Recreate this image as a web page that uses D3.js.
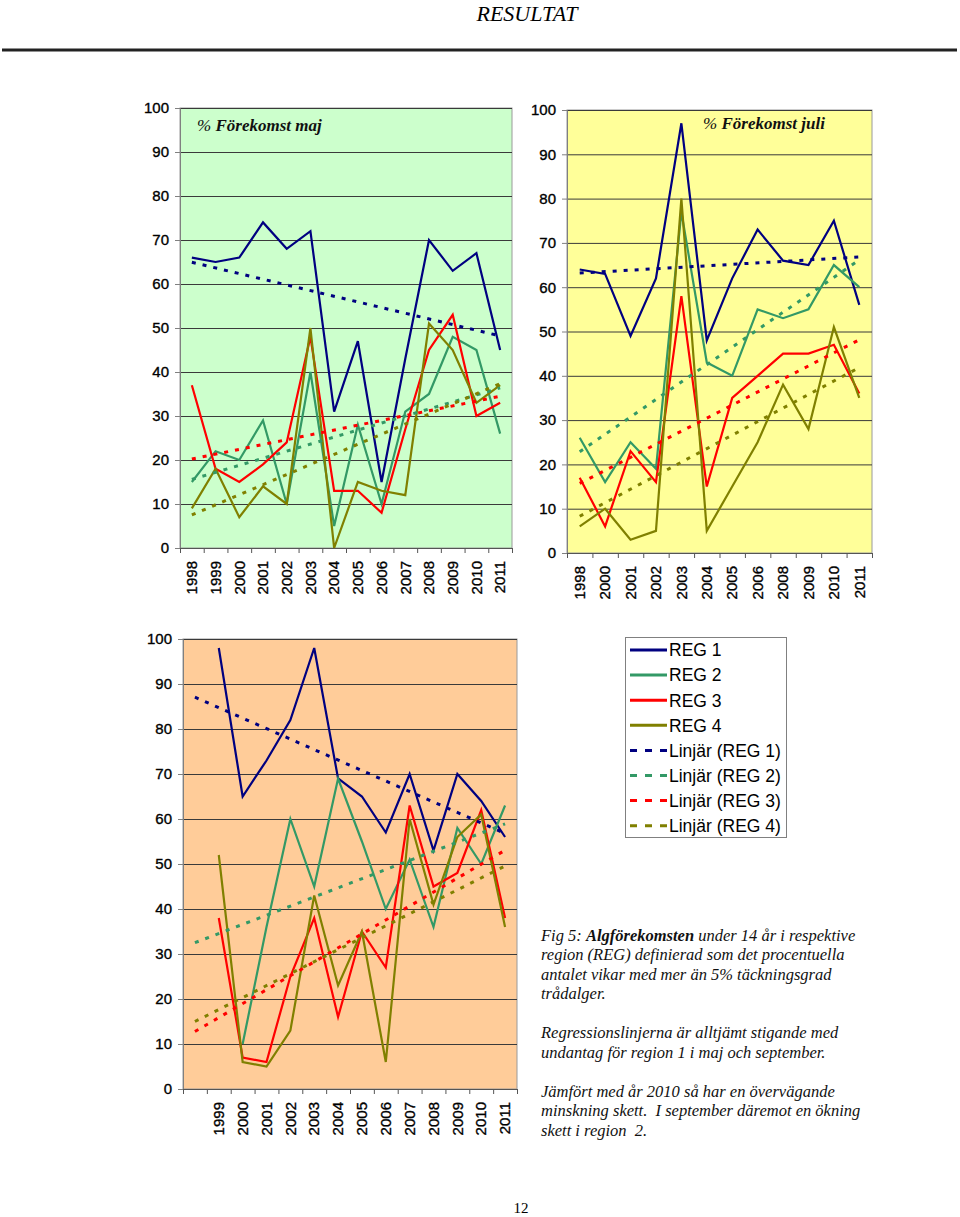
<!DOCTYPE html>
<html>
<head>
<meta charset="utf-8">
<script src="https://cdn.jsdelivr.net/npm/d3@7"></script>
<style>
  body { margin: 0; background: #fff; }
  svg { display: block; }
</style>
</head>
<body>
<div id="page"></div>
<script>
// Kategorier (år) för de tre diagrammen
const majYears = ["1998", "1999", "2000", "2001", "2002", "2003", "2004", "2005", "2006", "2007", "2008", "2009", "2010", "2011"];
const juliYears = ["1998", "2000", "2001", "2002", "2003", "2004", "2005", "2006", "2008", "2009", "2010", "2011"];
const septYears = ["", "1999", "2000", "2001", "2002", "2003", "2004", "2005", "2006", "2007", "2008", "2009", "2010", "2011"];

// % förekomst maj
const majReg1 = [66, 65, 66, 74, 68, 72, 31, 47, 15, 43, 70, 63, 67, 45];
const majReg2 = [15, 22, 20, 29, 10, 40, 5, 28, 10, 31, 35, 48, 45, 26];
const majReg3 = [37, 18, 15, 19, 24, 48, 13, 13, 8, 27, 45, 53, 30, 33];
const majReg4 = [9, 18, 7, 14, 10, 50, 0, 15, 13, 12, 51, 45, 33, 37];

// % förekomst juli
const juliReg1 = [64, 63, 49, 62, 97, 48, 62, 73, 66, 65, 75, 56];
const juliReg2 = [26, 16, 25, 19, 77, 43, 40, 55, 53, 55, 65, 60];
const juliReg3 = [17, 6, 23, 16, 58, 15, 35, 40, 45, 45, 47, 36];
const juliReg4 = [6, 10, 3, 5, 80, 5, 15, 25, 38, 28, 51, 35];

// september (första kategorin saknar värden)
const septReg1 = [null, 98, 65, 73, 82, 98, 69, 65, 57, 70, 53, 70, 64, 56];
const septReg2 = [null, null, 10, 36, 60, 45, 69, 55, 40, 51, 36, 58, 50, 63];
const septReg3 = [null, 38, 7, 6, 25, 38, 16, 35, 27, 63, 45, 48, 62, 38];
const septReg4 = [null, 52, 6, 5, 13, 43, 23, 35, 6, 60, 41, 56, 61, 36];

const regNames = ["REG 1", "REG 2", "REG 3", "REG 4"];
const regColors = ["#000080", "#339966", "#ff0000", "#808000"];
const yTicks = [0, 10, 20, 30, 40, 50, 60, 70, 80, 90, 100];

const figText = [
    ["Fig 5: ", "Algförekomsten", " under 14 år i respektive"],
    ["region (REG) definierad som det procentuella"],
    ["antalet vikar med mer än 5% täckningsgrad"],
    ["trådalger."],
    [""],
    ["Regressionslinjerna är alltjämt stigande med"],
    ["undantag för region 1 i maj och september."],
    [""],
    ["Jämfört med år 2010 så har en övervägande"],
    ["minskning skett.  I september däremot en ökning"],
    ["skett i region  2."]
];

const width = 960, height = 1217;
const svg = d3.select("#page").append("svg")
    .attr("width", width)
    .attr("height", height);

// Sidhuvud
svg.append("text")
    .attr("x", 527).attr("y", 21)
    .attr("text-anchor", "middle")
    .style("font-family", "'Liberation Serif', serif")
    .style("font-style", "italic")
    .style("font-size", "22px")
    .text("RESULTAT");

svg.append("line")
    .attr("x1", 2).attr("x2", 957)
    .attr("y1", 50).attr("y2", 50)
    .attr("stroke", "#222").attr("stroke-width", 3);

// linjär regression (Excel: x = 1..n)
function linReg(values) {
    const pts = values.map((v, i) => [i + 1, v]).filter(p => p[1] != null);
    const mx = d3.mean(pts, p => p[0]), my = d3.mean(pts, p => p[1]);
    const sxy = d3.sum(pts, p => (p[0] - mx) * (p[1] - my));
    const sxx = d3.sum(pts, p => (p[0] - mx) * (p[0] - mx));
    const b = sxy / sxx;
    return i => my + b * (i + 1 - mx);
}

function drawChart(opt) {
    const g = svg.append("g");
    const n = opt.years.length;
    const x = d3.scaleBand().domain(d3.range(n)).range([opt.x0, opt.x1]);
    const xEdge = d3.scaleLinear().domain([0, n]).range([opt.x0, opt.x1]);
    const y = d3.scaleLinear().domain([0, 100]).range([opt.y1, opt.y0]);
    const cx = i => x(i) + x.bandwidth() / 2;

    g.append("rect")
        .attr("x", opt.x0).attr("y", opt.y0)
        .attr("width", opt.x1 - opt.x0).attr("height", opt.y1 - opt.y0)
        .attr("fill", opt.bg)
        .attr("stroke", "#9a9a9a");

    // stödlinjer
    g.append("g")
        .attr("transform", `translate(${opt.x0},0)`)
        .call(d3.axisLeft(y).tickValues(yTicks.slice(1)).tickSize(-(opt.x1 - opt.x0)).tickFormat(""))
        .call(a => a.select(".domain").remove())
        .selectAll("line").attr("stroke", "#3a3a3a").attr("stroke-width", 1);

    // y-axel
    const ya = g.append("g")
        .attr("transform", `translate(${opt.x0},0)`)
        .call(d3.axisLeft(y).tickValues(yTicks).tickSize(5).tickPadding(6));
    ya.select(".domain").attr("stroke", "#808080");
    ya.selectAll("line").attr("stroke", "#808080");
    ya.selectAll("text")
        .style("font-family", "'Liberation Sans', Arial, sans-serif")
        .style("font-size", "15px")
        .attr("fill", "#000")
        .attr("stroke", "#000").attr("stroke-width", 0.35);

    // x-axel: streck mellan kategorierna
    const xa = g.append("g")
        .attr("transform", `translate(0,${opt.y1})`)
        .call(d3.axisBottom(xEdge).tickValues(d3.range(n + 1)).tickSize(5).tickFormat(""));
    xa.select(".domain").attr("stroke", "#555");
    xa.selectAll("line").attr("stroke", "#555");

    // x-axel: årtal, roterade
    const xl = g.append("g")
        .attr("transform", `translate(0,${opt.y1})`)
        .call(d3.axisBottom(x).tickSize(0).tickFormat(i => opt.years[i]));
    xl.select(".domain").remove();
    xl.selectAll("text")
        .attr("transform", "rotate(-90)")
        .attr("x", -13).attr("y", 0).attr("dy", "0.35em")
        .attr("text-anchor", "end")
        .attr("fill", "#000")
        .attr("stroke", "#000").attr("stroke-width", 0.35)
        .style("font-family", "'Liberation Sans', Arial, sans-serif")
        .style("font-size", "15px");

    const line = d3.line()
        .defined(d => d != null)
        .x((d, i) => cx(i))
        .y(d => y(d));

    opt.series.forEach((s, k) => {
        g.append("path")
            .datum(s)
            .attr("d", line)
            .attr("fill", "none")
            .attr("stroke", regColors[k])
            .attr("stroke-width", 2.2)
            .attr("stroke-linejoin", "miter");
    });

    // trendlinjer
    opt.series.forEach((s, k) => {
        const f = linReg(s);
        g.append("line")
            .attr("x1", cx(0)).attr("y1", y(f(0)))
            .attr("x2", cx(n - 1)).attr("y2", y(f(n - 1)))
            .attr("stroke", regColors[k])
            .attr("stroke-width", 3)
            .attr("stroke-dasharray", "4,7");
    });

    // rubrik i diagrammet
    if (opt.title) {
        const t = g.append("text")
            .attr("x", opt.titleX).attr("y", opt.titleY)
            .style("font-family", "'Liberation Serif', serif")
            .style("font-style", "italic")
            .style("font-size", "17px")
            .attr("fill", "#111");
        t.append("tspan").text(opt.titlePre);
        t.append("tspan").style("font-weight", "bold").text(opt.title);
    }
}

drawChart({
    years: majYears, series: [majReg1, majReg2, majReg3, majReg4],
    x0: 180, x1: 512, y0: 108, y1: 548, bg: "#ccffcc",
    titleX: 197, titleY: 131, titlePre: "% ", title: "Förekomst maj"
});

drawChart({
    years: juliYears, series: [juliReg1, juliReg2, juliReg3, juliReg4],
    x0: 567, x1: 872, y0: 110, y1: 553, bg: "#ffff99",
    titleX: 703, titleY: 129, titlePre: "%  ", title: "Förekomst juli"
});

drawChart({
    years: septYears, series: [septReg1, septReg2, septReg3, septReg4],
    x0: 183, x1: 517, y0: 639, y1: 1089, bg: "#ffcc99",
    titleX: 0, titleY: 0, titlePre: "", title: ""
});

// teckenförklaring
const legend = svg.append("g");
legend.append("rect")
    .attr("x", 625.5).attr("y", 637.5)
    .attr("width", 161).attr("height", 200)
    .attr("fill", "#fff").attr("stroke", "#808080");

const legendItems = regNames.map((name, k) => ({ label: name, color: regColors[k], dash: null }))
    .concat(regNames.map((name, k) => ({ label: `Linjär (${name})`, color: regColors[k], dash: "7,8" })));

const li = legend.selectAll("g.item")
    .data(legendItems)
    .join("g")
    .attr("class", "item")
    .attr("transform", (d, i) => `translate(0,${650 + i * 25.1})`);

li.append("line")
    .attr("x1", 630).attr("x2", 667)
    .attr("stroke", d => d.color)
    .attr("stroke-width", 3)
    .attr("stroke-dasharray", d => d.dash);

li.append("text")
    .attr("x", 669).attr("dy", "0.36em")
    .style("font-family", "'Liberation Sans', Arial, sans-serif")
    .style("font-size", "17.5px")
    .text(d => d.label);

// figurtext
const ft = svg.append("g")
    .style("font-family", "'Liberation Serif', serif")
    .style("font-style", "italic")
    .style("font-size", "16.5px")
    .attr("fill", "#111");

figText.forEach((parts, i) => {
    const t = ft.append("text")
        .attr("x", 541).attr("y", 941 + i * 19.45)
        .attr("xml:space", "preserve")
        .style("white-space", "pre");
    parts.forEach((p, j) => {
        t.append("tspan")
            .style("font-weight", (i === 0 && j === 1) ? "bold" : "normal")
            .text(p);
    });
});

// sidnummer
svg.append("text")
    .attr("x", 521).attr("y", 1213)
    .attr("text-anchor", "middle")
    .style("font-family", "'Liberation Serif', serif")
    .style("font-size", "15px")
    .text("12");
</script>
</body>
</html>
